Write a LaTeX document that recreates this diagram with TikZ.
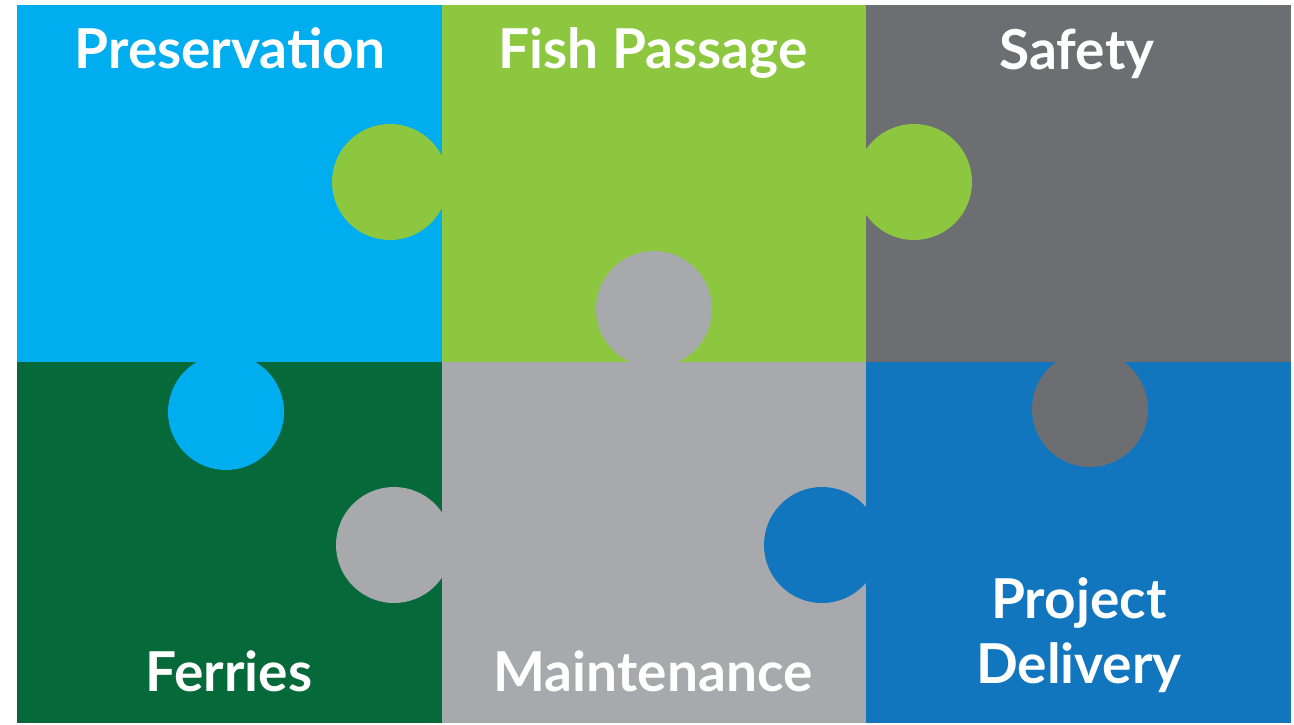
\documentclass[tikz,border=0pt]{standalone}
\usepackage{fontspec}
\setmainfont{Lato}
\definecolor{skyblue}{HTML}{00AEEF}
\definecolor{leafgreen}{HTML}{8DC63F}
\definecolor{slategray}{HTML}{6D6E71}
\definecolor{forestgreen}{HTML}{05693A}
\definecolor{silvergray}{HTML}{A7A9AC}
\definecolor{royalblue}{HTML}{1176BE}
\begin{document}
\begin{tikzpicture}[x=1pt,y=-1pt,
  tile/.style={fill=#1,draw=none},
  knob/.style={fill=#1,draw=none},
  label/.style={text=white,font=\fontsize{55}{66}\selectfont\bfseries,anchor=base,inner sep=0pt}]
  \fill[white] (0,0) rectangle (1294,725);
  \useasboundingbox (0,0) rectangle (1294,725);
  % puzzle pieces
  \fill[tile=skyblue]     (17,5)   rectangle (442,362);
  \fill[tile=leafgreen]   (442,5)  rectangle (866,362);
  \fill[tile=slategray]   (866,5)  rectangle (1291,362);
  \fill[tile=forestgreen] (17,362) rectangle (442,723);
  \fill[tile=silvergray]  (442,362) rectangle (866,723);
  \fill[tile=royalblue]   (866,362) rectangle (1291,723);
  % connecting knobs
  \fill[knob=leafgreen]  (390,182) circle (58);
  \fill[knob=leafgreen]  (914,182) circle (58);
  \fill[knob=silvergray] (654,309) circle (58);
  \fill[knob=skyblue]    (226,412) circle (58);
  \fill[knob=silvergray] (394,545) circle (58);
  \fill[knob=slategray]  (1090,409) circle (58);
  \fill[knob=royalblue]  (822,545) circle (58);
  % labels
  \node[label] (pres) at (230,69) {Preservation};
  \node[label] (fish) at (653,69) {Fish Passage};
  \node[label] (safe) at (1077,70) {Safety};
  \node[label] (ferr) at (229,691) {Ferries};
  \node[label] (main) at (653,691) {Maintenance};
  \node[label] (proj) at (1079,618) {Project};
  \node[label] (deli) at (1079,683) {Delivery};
\end{tikzpicture}
\end{document}
